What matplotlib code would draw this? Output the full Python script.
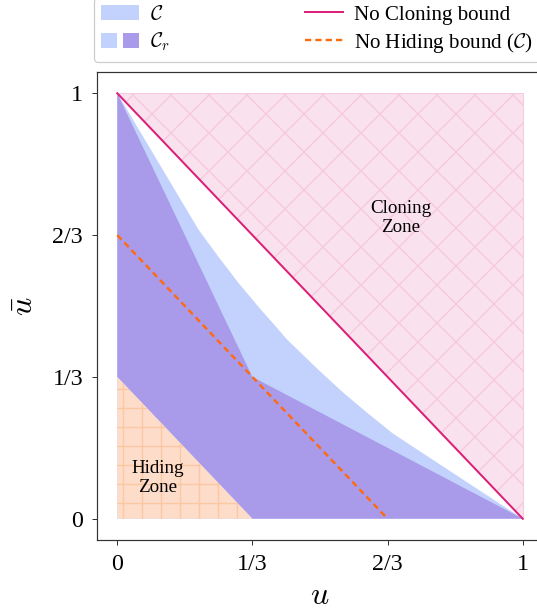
import numpy as np
import matplotlib
matplotlib.use('Agg')
import matplotlib.pyplot as plt
from matplotlib.patches import Polygon, Patch
from matplotlib.lines import Line2D
from matplotlib.legend_handler import HandlerTuple

# dpi choisi pour que les hachures aient le bon pas
DPI = 228
S = 72 / DPI   # pixels -> points

# bord supérieur de la région C
curve_u = [0, 0.1, 0.2, 0.25, 0.3, 0.35, 0.4, 0.42, 0.442, 0.496, 0.553, 0.615, 0.68, 0.84, 1]
curve_ub = [1, 0.84, 0.68, 0.615, 0.553, 0.496, 0.442, 0.42, 0.4, 0.35, 0.3, 0.25, 0.2, 0.1, 0]

# région C_r
cr_u = [0, 1/3, 1, 1/3, 0]
cr_ub = [1, 1/3, 0, 0, 1/3]

# zones
hide_u = [0, 1/3, 0]
hide_ub = [0, 0, 1/3]
clone_u = [0, 1, 1]
clone_ub = [1, 1, 0]

# bornes
nocl_u = [0, 1]
nocl_ub = [1, 0]
nohide_u = [0, 2/3]
nohide_ub = [2/3, 0]

ticks = [0, 1/3, 2/3, 1]
tick_labels = ['0', '1/3', '2/3', '1']

c_light = '#c2d2fd'
c_purple = '#a99bea'
c_magenta = '#dc1f78'
c_orange = '#ff6a10'

plt.rcParams['font.family'] = ['Liberation Serif', 'DejaVu Serif']
plt.rcParams['mathtext.fontset'] = 'cm'
plt.rcParams['hatch.linewidth'] = 1.4 * S

fig = plt.figure(figsize=(537 / DPI, 614 / DPI), dpi=DPI)
ax = fig.add_axes([97 / 537, 74 / 614, 446 / 537, 468 / 614])

# C
ax.add_patch(Polygon(list(zip(curve_u + [0], curve_ub + [0])), closed=True,
                     fc=c_light, lw=0, zorder=1))
# C_r
ax.add_patch(Polygon(list(zip(cr_u, cr_ub)), closed=True, fc=c_purple, lw=0, zorder=2))
# zone de hiding
ax.add_patch(Polygon(list(zip(hide_u, hide_ub)), closed=True, fc='#fddcc9',
                     ec='#fcc7a3', lw=0, hatch='++', zorder=3))
# zone de clonage
ax.add_patch(Polygon(list(zip(clone_u, clone_ub)), closed=True, fc='#f9e1ee',
                     ec='#f6c9dd', lw=1 * S, hatch='xx', zorder=3))

ax.plot(nocl_u, nocl_ub, color=c_magenta, lw=2 * S, zorder=5)
ax.plot(nohide_u, nohide_ub, color=c_orange, lw=2.4 * S, dashes=(2.6, 1.7), zorder=5)

ax.text(0.7, 0.707, 'Cloning\nZone', ha='center', va='center', fontsize=19 * S,
        linespacing=1.1, zorder=6)
ax.text(0.099, 0.096, 'Hiding\nZone', ha='center', va='center', fontsize=19 * S,
        linespacing=1.1, zorder=6)

ax.set_xlim(-0.05, 1.05)
ax.set_ylim(-0.05, 1.05)
ax.set_xticks(ticks)
ax.set_xticklabels(tick_labels)
ax.set_yticks(ticks)
ax.set_yticklabels(tick_labels)
ax.tick_params(direction='out', length=5 * S, width=1 * S, pad=9 * S,
               labelsize=24 * S, color='#333333')
for sp in ax.spines.values():
    sp.set_linewidth(1.2 * S)
    sp.set_color('#333333')

ax.set_xlabel(r'$u$', fontsize=32 * S, labelpad=7 * S)
ax.set_ylabel(r'$\bar{u}$', fontsize=32 * S, labelpad=12 * S)

handles = [Patch(fc=c_light, lw=0),
           (Patch(fc=c_light, lw=0), Patch(fc=c_purple, lw=0)),
           Line2D([], [], color=c_magenta, lw=2 * S),
           Line2D([], [], color=c_orange, lw=2.4 * S, dashes=(2.6, 1.7))]
labels = [r'$\mathcal{C}$', r'$\mathcal{C}_r$', 'No Cloning bound',
          r'No Hiding bound ($\mathcal{C}$)']
leg = ax.legend(handles, labels, ncol=2, loc='lower left', mode='expand',
                bbox_to_anchor=(-0.007, 1.021, 1.0, 0.1), borderaxespad=0,
                fontsize=21 * S, handlelength=1.8, handleheight=0.72,
                handletextpad=0.52, labelspacing=0.28, borderpad=0.36,
                fancybox=True, framealpha=1, edgecolor='#cccccc',
                handler_map={tuple: HandlerTuple(ndivide=None, pad=0.3)})
leg.get_frame().set_linewidth(1.2 * S)

fig.savefig('out.png', dpi=DPI)
